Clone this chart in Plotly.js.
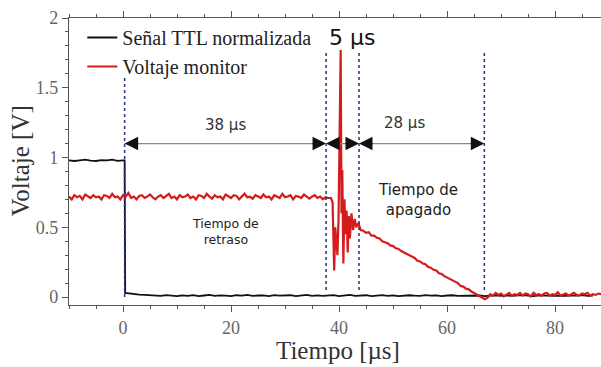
<!DOCTYPE html>
<html><head><meta charset="utf-8">
<script src="https://cdn.plot.ly/plotly-3.0.1.min.js"></script>
<style>html,body{margin:0;padding:0;background:#fff}#chart{width:601px;height:367px}</style>
</head><body><div id="chart"></div>
<script>
// ---- data ----
const tBlack = [-10,-9,-8,-7,-6,-5,-4,-3,-2,-1,0,0.3,0.4,1,2,3,4,5,6,7,8,9,10,11,12,13,14,15,16,17,18,19,20,21,22,23,24,25,26,27,28,29,30,31,32,33,34,35,36,37,38,39,40,41,42,43,44,45,46,47,48,49,50,51,52,53,54,55,56,57,58,59,60,61,62,63,64,65,66,67,68,69,70,71,72,73,74,75,76,77,78,79,80,81,82,83,84,85,86,87,88];
const vBlack = [0.98,0.975,0.98,0.985,0.978,0.975,0.982,0.979,0.985,0.976,0.98,0.98,0.03,0.026,0.02,0.018,0.015,0.013,0.012,0.008,0.014,0.01,0.006,0.012,0.009,0.014,0.007,0.011,0.015,0.008,0.012,0.01,0.006,0.013,0.01,0.015,0.008,0.011,0.012,0.007,0.014,0.01,0.009,0.013,0.006,0.011,0.015,0.009,0.012,0.008,0.01,0.014,0.007,0.012,0.016,0.009,0.011,0.013,0.007,0.01,0.014,0.009,0.012,0.006,0.011,0.013,0.01,0.008,0.014,0.01,0.012,0.007,0.011,0.013,0.009,0.01,0.012,0.008,0.011,0.006,0.01,0.013,0.009,0.012,0.008,0.011,0.014,0.01,0.007,0.012,0.01,0.013,0.009,0.011,0.008,0.012,0.01,0.014,0.009,0.011];
const tRed = [
  -10,-9.5,-9,-8.5,-8,-7.5,-7,-6.5,-6,-5.5,
  -5,-4.5,-4,-3.5,-3,-2.5,-2,-1.5,-1,-0.5,
  0,0.5,1,1.5,2,2.5,3,3.5,4,4.5,
  5,5.5,6,6.5,7,7.5,8,8.5,9,9.5,
  10,10.5,11,11.5,12,12.5,13,13.5,14,14.5,
  15,15.5,16,16.5,17,17.5,18,18.5,19,19.5,
  20,20.5,21,21.5,22,22.5,23,23.5,24,24.5,
  25,25.5,26,26.5,27,27.5,28,28.5,29,29.5,
  30,30.5,31,31.5,32,32.5,33,33.5,34,34.5,
  35,35.5,36,36.5,37,37.5,38,
  38.5,38.8,39.0,39.1,39.3,39.5,39.7,39.9,40.1,40.3,40.45,40.6,40.8,41.0,41.2,41.4,41.6,41.8,42.0,42.3,42.6,42.9,43.2,43.6,
  44,44.5,45,45.5,46,46.5,47,47.5,48,48.5,49,49.5,50,50.5,51,51.5,52,52.5,53,53.5,54,54.5,55,55.5,56,56.5,57,57.5,58,58.5,59,59.5,60,60.5,61,61.5,62,62.5,63,63.5,64,64.5,65,65.5,66,
  66.5,67,67.5,
  68,68.5,69,69.5,70,70.5,71,71.5,72,72.5,73,73.5,74,74.5,75,75.5,76,76.5,77,77.5,78,78.5,79,79.5,80,80.5,81,81.5,82,82.5,83,83.5,84,84.5,85,85.5,86,86.5,87,87.5,88,88.5];
const vRed = [
  0.72,0.70,0.73,0.715,0.725,0.70,0.735,0.72,0.71,0.73,
  0.715,0.72,0.70,0.73,0.725,0.71,0.74,0.715,0.72,0.70,
  0.73,0.72,0.745,0.71,0.72,0.70,0.725,0.73,0.71,0.72,
  0.735,0.715,0.70,0.72,0.73,0.71,0.725,0.74,0.71,0.72,
  0.70,0.73,0.715,0.72,0.735,0.71,0.72,0.70,0.73,0.725,
  0.71,0.74,0.72,0.705,0.73,0.715,0.72,0.70,0.735,0.72,
  0.71,0.73,0.725,0.70,0.72,0.74,0.715,0.72,0.705,0.73,
  0.72,0.71,0.735,0.715,0.72,0.70,0.73,0.72,0.71,0.74,
  0.715,0.72,0.73,0.70,0.725,0.72,0.71,0.735,0.72,0.705,
  0.72,0.73,0.71,0.72,0.70,0.715,0.71,
  0.71,0.68,0.45,0.19,0.50,0.40,0.30,0.55,1.10,1.77,0.60,0.91,0.24,0.70,0.45,0.62,0.32,0.58,0.42,0.60,0.48,0.56,0.50,0.53,
  0.48,0.475,0.46,0.465,0.44,0.44,0.425,0.42,0.40,0.395,0.385,0.37,0.365,0.35,0.345,0.33,0.32,0.31,0.30,0.285,0.28,0.26,0.255,0.24,0.235,0.215,0.21,0.195,0.19,0.17,0.165,0.15,0.14,0.13,0.12,0.105,0.10,0.08,0.075,0.06,0.055,0.04,0.03,0.02,0.01,
  -0.005,-0.015,-0.005,
  0.02,0.01,0.03,0.015,0.025,0.005,0.02,0.03,0.01,0.02,
  0.015,0.03,0.01,0.025,0.02,0.005,0.03,0.015,0.02,0.01,
  0.025,0.03,0.01,0.02,0.015,0.035,0.01,0.02,0.025,0.01,
  0.02,0.03,0.015,0.01,0.025,0.02,0.03,0.01,0.02,0.015,
  0.025,0.02];
const markerTimes = [0.3, 37.6, 43.7, 66.9];
const intervalLabels = ['38 µs', '5 µs', '28 µs'];
const xTicks = [0, 20, 40, 60, 80];
const yTicks = [0, 0.5, 1, 1.5, 2];

// ---- chart ----
const serif = 'Liberation Serif, Times New Roman, serif';
const sans = 'DejaVu Sans, sans-serif';
const arrowY = 1.1;
const traces = [
  {x: tBlack, y: vBlack, mode: 'lines', name: 'Señal TTL normalizada', line: {color: '#111', width: 1.8}},
  {x: tRed, y: vRed, mode: 'lines', name: 'Voltaje monitor', line: {color: '#d41c1c', width: 2.2}}
];
const shapes = [];
markerTimes.forEach((t, i) => {
  shapes.push({type: 'line', xref: 'x', yref: 'y', x0: t, x1: t, y0: i === 0 ? 0 : 0.05, y1: i === 0 ? 1.59 : 1.75,
    line: {color: '#27307a', width: 1.5, dash: 'dot'}});
});
shapes.push({type: 'line', xref: 'x', yref: 'y', x0: markerTimes[0], x1: markerTimes[3], y0: arrowY, y1: arrowY,
  line: {color: '#8a8a8a', width: 1.3}});
const annotations = [];
// arrow heads: each interval gets heads at both ends pointing outward
for (let i = 0; i < 3; i++) {
  const a = markerTimes[i], b = markerTimes[i + 1];
  [[a, a + 2.8], [b, b - 2.8]].forEach(([tip, tail]) => {
    annotations.push({x: tip, y: arrowY, ax: tail, ay: arrowY, axref: 'x', ayref: 'y', xref: 'x', yref: 'y',
      text: '', showarrow: true, arrowhead: 2, arrowsize: 2.7, arrowwidth: 1, arrowcolor: '#111', standoff: 0});
  });
}
annotations.push({x: (markerTimes[0] + markerTimes[1]) / 2, y: 1.235, xref: 'x', yref: 'y', text: intervalLabels[0], showarrow: false,
  font: {family: sans, size: 15, color: '#333'}});
annotations.push({x: 42.4, y: 1.86, xref: 'x', yref: 'y', text: intervalLabels[1], showarrow: false,
  font: {family: sans, size: 22, color: '#111'}});
annotations.push({x: 52.2, y: 1.245, xref: 'x', yref: 'y', text: intervalLabels[2], showarrow: false,
  font: {family: sans, size: 15, color: '#333'}});
annotations.push({x: 19, y: 0.47, xref: 'x', yref: 'y', text: 'Tiempo de<br>retraso', showarrow: false,
  font: {family: sans, size: 12.5, color: '#222'}});
annotations.push({x: 54.6, y: 0.695, xref: 'x', yref: 'y', text: 'Tiempo de<br>apagado', showarrow: false,
  font: {family: sans, size: 15, color: '#222'}});
// axis titles placed as in the picture
annotations.push({xref: 'paper', yref: 'paper', x: 0.505, y: -0.157, xanchor: 'center', yanchor: 'middle', text: 'Tiempo [µs]', showarrow: false,
  font: {family: serif, size: 25, color: '#333'}});
annotations.push({xref: 'paper', yref: 'paper', x: -0.092, y: 0.5, xanchor: 'center', yanchor: 'middle', text: 'Voltaje [V]', textangle: -90, showarrow: false,
  font: {family: serif, size: 25, color: '#333'}});

const axisCommon = {showgrid: false, zeroline: false, showline: true, linecolor: '#555', linewidth: 1.2,
  ticks: 'outside', ticklen: 6, tickcolor: '#555', tickfont: {family: serif, size: 18, color: '#666'}};
const layout = {
  width: 601, height: 367,
  margin: {l: 69, r: 0, t: 18, b: 62},
  paper_bgcolor: '#fff', plot_bgcolor: '#fff',
  showlegend: true,
  legend: {x: 0.025, y: 1.0, xanchor: 'left', yanchor: 'top', bgcolor: 'rgba(0,0,0,0)', itemwidth: 30,
    font: {family: serif, size: 20, color: '#222'}, tracegroupgap: 0},
  xaxis: Object.assign({}, axisCommon, {range: [-10, 88.5], tickvals: xTicks, mirror: 'ticks',
    minor: {dtick: 5, ticklen: 3, ticks: 'outside', tickcolor: '#555'}}),
  yaxis: Object.assign({}, axisCommon, {range: [-0.057, 2], tickvals: yTicks, ticktext: yTicks.map(String),
    minor: {dtick: 0.1, ticklen: 3, ticks: 'outside', tickcolor: '#555'}}),
  shapes: shapes, annotations: annotations
};
Plotly.newPlot('chart', traces, layout, {displayModeBar: false, staticPlot: true});
</script></body></html>
